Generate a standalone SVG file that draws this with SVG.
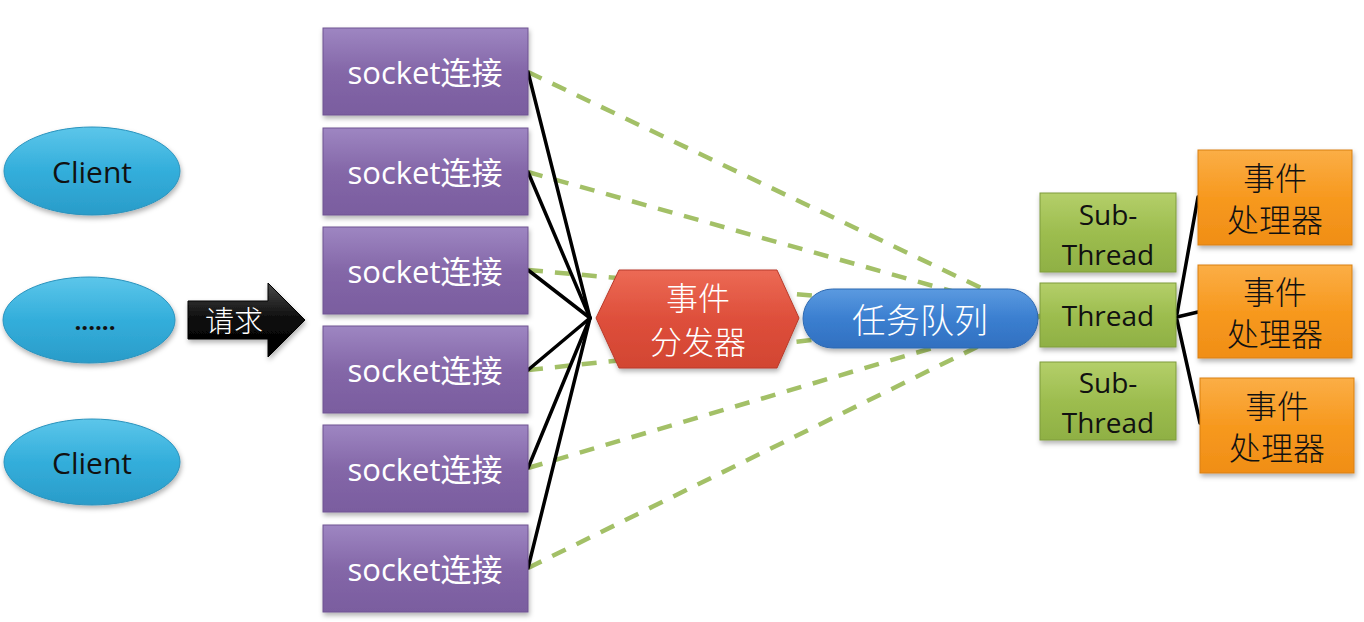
<svg xmlns="http://www.w3.org/2000/svg" width="1364" height="622" viewBox="0 0 1364 622">
<defs>
  <linearGradient id="gClient" x1="0" y1="0" x2="0" y2="1">
    <stop offset="0" stop-color="#5cc6ea"/>
    <stop offset="0.5" stop-color="#33aedb"/>
    <stop offset="1" stop-color="#2a9cc9"/>
  </linearGradient>
  <linearGradient id="gSock" x1="0" y1="0" x2="0" y2="1">
    <stop offset="0" stop-color="#9e86c2"/>
    <stop offset="0.5" stop-color="#8467a8"/>
    <stop offset="1" stop-color="#7a5d9f"/>
  </linearGradient>
  <linearGradient id="gHex" x1="0" y1="0" x2="0" y2="1">
    <stop offset="0" stop-color="#ec6a55"/>
    <stop offset="0.5" stop-color="#de4f3b"/>
    <stop offset="1" stop-color="#d24532"/>
  </linearGradient>
  <linearGradient id="gQueue" x1="0" y1="0" x2="0" y2="1">
    <stop offset="0" stop-color="#5b9ae0"/>
    <stop offset="0.5" stop-color="#3b7fd0"/>
    <stop offset="1" stop-color="#3170c0"/>
  </linearGradient>
  <linearGradient id="gThread" x1="0" y1="0" x2="0" y2="1">
    <stop offset="0" stop-color="#b4cf6a"/>
    <stop offset="0.5" stop-color="#9dbd4f"/>
    <stop offset="1" stop-color="#8fb044"/>
  </linearGradient>
  <linearGradient id="gHand" x1="0" y1="0" x2="0" y2="1">
    <stop offset="0" stop-color="#fbae46"/>
    <stop offset="0.5" stop-color="#f7991f"/>
    <stop offset="1" stop-color="#f08e16"/>
  </linearGradient>
  <linearGradient id="gArrow" x1="0" y1="0" x2="0" y2="1">
    <stop offset="0" stop-color="#4a4a4a"/>
    <stop offset="0.5" stop-color="#0a0a0a"/>
    <stop offset="1" stop-color="#000"/>
  </linearGradient>
  <filter id="sh" x="-10%" y="-10%" width="125%" height="130%">
    <feDropShadow dx="1" dy="3" stdDeviation="2.5" flood-color="#000" flood-opacity="0.3"/>
  </filter>
</defs>
<style>
  .dash { stroke: #a3c067; stroke-width: 4.5; stroke-dasharray: 15 12; fill: none; }
  .solid { stroke: #000; stroke-width: 3.5; fill: none; stroke-linecap: round; }
  .client { fill: url(#gClient); stroke: #2b93bd; stroke-width: 1; filter: url(#sh); }
  .sock { fill: url(#gSock); stroke: #6f5592; stroke-width: 1; filter: url(#sh); }
  .thread { fill: url(#gThread); stroke: #7f9c3c; stroke-width: 1; filter: url(#sh); }
  .hand { fill: url(#gHand); stroke: #d9800f; stroke-width: 1; filter: url(#sh); }
  .t { font-family: "Open Sans", "Noto Sans CJK SC", sans-serif; text-anchor: middle; dominant-baseline: central; }
  .w { fill: #ffffff; }
  .k { fill: #111111; }
  .cjk { font-family: "Noto Sans CJK SC", sans-serif; font-weight: 300; }
</style>

<g id="connectors">
  <line class="dash" x1="528" y1="72" x2="1040" y2="316"/>
  <line class="dash" x1="528" y1="172" x2="1040" y2="316"/>
  <line class="dash" x1="528" y1="270" x2="1040" y2="316"/>
  <line class="dash" x1="528" y1="370" x2="1040" y2="316"/>
  <line class="dash" x1="528" y1="468" x2="1040" y2="316"/>
  <line class="dash" x1="528" y1="568" x2="1040" y2="316"/>
  <line class="solid" x1="528" y1="72" x2="590" y2="318"/>
  <line class="solid" x1="528" y1="172" x2="590" y2="318"/>
  <line class="solid" x1="528" y1="270" x2="590" y2="318"/>
  <line class="solid" x1="528" y1="370" x2="590" y2="318"/>
  <line class="solid" x1="528" y1="468" x2="590" y2="318"/>
  <line class="solid" x1="528" y1="568" x2="590" y2="318"/>
  <line class="solid" x1="1177" y1="314" x2="1198" y2="197"/>
  <line class="solid" x1="1177" y1="317" x2="1198" y2="312"/>
  <line class="solid" x1="1177" y1="320" x2="1200" y2="423"/>
</g>

<g id="client1">
  <ellipse class="client" cx="92" cy="171" rx="88" ry="44"/>
  <text class="t k" x="92" y="171" font-size="30">Client</text>
</g>
<g id="client2">
  <ellipse class="client" cx="89" cy="320" rx="86" ry="43"/>
  <text class="t k" x="95" y="320" font-size="24" font-weight="bold">......</text>
</g>
<g id="client3">
  <ellipse class="client" cx="92" cy="462" rx="88" ry="43"/>
  <text class="t k" x="92" y="462" font-size="30">Client</text>
</g>

<g id="request">
  <path d="M188,301 L268,301 L268,283 L305,320 L268,357 L268,339 L188,339 Z" fill="url(#gArrow)" stroke="#000" stroke-width="1" filter="url(#sh)"/>
  <text class="t w cjk" x="234" y="319" font-size="29">请求</text>
</g>

<g id="socket1">
  <rect class="sock" x="323" y="28" width="205" height="87"/>
  <text class="t w" x="425" y="72" font-size="31">socket连接</text>
</g>
<g id="socket2">
  <rect class="sock" x="323" y="128" width="205" height="87"/>
  <text class="t w" x="425" y="172" font-size="31">socket连接</text>
</g>
<g id="socket3">
  <rect class="sock" x="323" y="227" width="205" height="87"/>
  <text class="t w" x="425" y="271" font-size="31">socket连接</text>
</g>
<g id="socket4">
  <rect class="sock" x="323" y="326" width="205" height="87"/>
  <text class="t w" x="425" y="370" font-size="31">socket连接</text>
</g>
<g id="socket5">
  <rect class="sock" x="323" y="425" width="205" height="87"/>
  <text class="t w" x="425" y="469" font-size="31">socket连接</text>
</g>
<g id="socket6">
  <rect class="sock" x="323" y="525" width="205" height="87"/>
  <text class="t w" x="425" y="569" font-size="31">socket连接</text>
</g>

<g id="dispatcher">
  <polygon points="596,318 619,270 777,270 799,318 777,368 619,368" fill="url(#gHex)" stroke="#b83a2a" stroke-width="1" filter="url(#sh)"/>
  <text class="t w cjk" x="698" y="296" font-size="32">事件</text>
  <text class="t w cjk" x="698" y="340" font-size="32">分发器</text>
</g>

<g id="queue">
  <rect x="803" y="289" width="235" height="59" rx="29.5" fill="url(#gQueue)" stroke="#2d68b0" stroke-width="1" filter="url(#sh)"/>
  <text class="t w cjk" x="920" y="318" font-size="34">任务队列</text>
</g>

<g id="subthread1">
  <rect class="thread" x="1040" y="193" width="136" height="79"/>
  <text class="t k" x="1108" y="214" font-size="28">Sub-</text>
  <text class="t k" x="1108" y="254" font-size="28">Thread</text>
</g>
<g id="thread">
  <rect class="thread" x="1040" y="283" width="136" height="64"/>
  <text class="t k" x="1108" y="315" font-size="28">Thread</text>
</g>
<g id="subthread2">
  <rect class="thread" x="1040" y="362" width="136" height="78"/>
  <text class="t k" x="1108" y="382" font-size="28">Sub-</text>
  <text class="t k" x="1108" y="422" font-size="28">Thread</text>
</g>

<g id="handler1">
  <rect class="hand" x="1198" y="150" width="154" height="95"/>
  <text class="t k cjk" x="1275" y="176" font-size="32">事件</text>
  <text class="t k cjk" x="1275" y="218" font-size="32">处理器</text>
</g>
<g id="handler2">
  <rect class="hand" x="1198" y="265" width="154" height="93"/>
  <text class="t k cjk" x="1275" y="290" font-size="32">事件</text>
  <text class="t k cjk" x="1275" y="332" font-size="32">处理器</text>
</g>
<g id="handler3">
  <rect class="hand" x="1200" y="378" width="154" height="95"/>
  <text class="t k cjk" x="1277" y="404" font-size="32">事件</text>
  <text class="t k cjk" x="1277" y="446" font-size="32">处理器</text>
</g>
</svg>
